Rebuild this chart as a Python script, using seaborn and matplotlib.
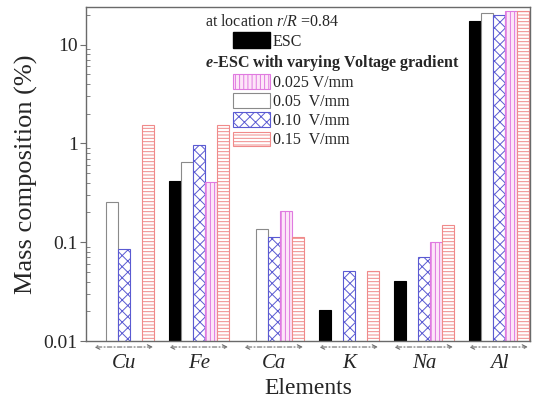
import numpy as np
import pandas as pd
import matplotlib
matplotlib.use("Agg")
import matplotlib.pyplot as plt
import matplotlib.patches as mpatches
import seaborn as sns
from matplotlib.ticker import FixedLocator, FixedFormatter, LogLocator, NullFormatter

nan = np.nan
elements = ["Cu", "Fe", "Ca", "K", "Na", "Al"]
series_order = ["ESC", "0.05 V/mm", "0.10 V/mm", "0.025 V/mm", "0.15 V/mm"]
esc = [nan, 0.42, nan, 0.0205, 0.0405, 17.2]
v005 = [0.254, 0.65, 0.135, nan, nan, 20.9]
v010 = [0.085, 0.96, 0.114, 0.051, 0.0715, 19.8]
v0025 = [nan, 0.41, 0.205, nan, 0.10, 22.1]
v015 = [1.55, 1.55, 0.114, 0.051, 0.15, 21.7]
legend_order = ["0.025 V/mm", "0.05 V/mm", "0.10 V/mm", "0.15 V/mm"]
legend_labels = ["0.025 V/mm", "0.05  V/mm", "0.10  V/mm", "0.15  V/mm"]
yticks = [0.01, 0.1, 1, 10]
ytick_labels = ["0.01", "0.1", "1", "10"]

values = {"ESC": esc, "0.05 V/mm": v005, "0.10 V/mm": v010,
          "0.025 V/mm": v0025, "0.15 V/mm": v015}
rows = []
for s in series_order:
    for e, v in zip(elements, values[s]):
        rows.append({"Element": e, "Series": s, "Value": v})
df = pd.DataFrame(rows)

styles = {
    "ESC": dict(facecolor="black", edgecolor="black", hatch=None),
    "0.05 V/mm": dict(facecolor="white", edgecolor="#8a8a8a", hatch=None),
    "0.10 V/mm": dict(facecolor="white", edgecolor="#5a5ad2", hatch="xxx"),
    "0.025 V/mm": dict(facecolor="#fde6f8", edgecolor="#e07ae0", hatch="||||"),
    "0.15 V/mm": dict(facecolor="white", edgecolor="#f08a8a", hatch="-----"),
}

sns.set_style("ticks")
plt.rcParams["font.family"] = ["Liberation Serif", "DejaVu Serif"]
plt.rcParams["mathtext.fontset"] = "custom"
plt.rcParams["mathtext.rm"] = "Liberation Serif"
plt.rcParams["mathtext.it"] = "Liberation Serif:italic"
plt.rcParams["mathtext.bf"] = "Liberation Serif:bold"
plt.rcParams["mathtext.bfit"] = "Liberation Serif:italic:bold"
plt.rcParams["hatch.linewidth"] = 0.7

fig = plt.figure(figsize=(5.38, 4.0), dpi=100)
ax = fig.add_axes([0.160, 0.1475, 0.825, 0.835])

palette = {s: styles[s]["facecolor"] for s in series_order}
sns.barplot(data=df, x="Element", y="Value", hue="Series", order=elements,
            hue_order=series_order, palette=palette, width=0.8, errorbar=None,
            legend=False, ax=ax)

for s, cont in zip(series_order, ax.containers):
    st = styles[s]
    for bar in cont:
        bar.set_facecolor(st["facecolor"])
        bar.set_edgecolor(st["edgecolor"])
        bar.set_linewidth(0.8)
        if st["hatch"]:
            bar.set_hatch(st["hatch"])

ax.set_yscale("log")
ax.set_ylim(0.01, 24)
ax.set_xlim(-0.51, len(elements) - 1 + 0.41)
ax.yaxis.set_major_locator(FixedLocator(yticks))
ax.yaxis.set_major_formatter(FixedFormatter(ytick_labels))
ax.yaxis.set_minor_locator(LogLocator(base=10, subs=np.arange(2, 10)))
ax.yaxis.set_minor_formatter(NullFormatter())
ax.tick_params(axis="y", which="major", direction="out", length=4, width=0.8,
               color="#707070", labelsize=14, pad=2)
ax.tick_params(axis="y", which="minor", direction="in", length=3, width=0.6,
               color="#707070")
ax.tick_params(axis="x", length=0, labelsize=15, pad=9)
for lab in ax.get_xticklabels():
    lab.set_fontstyle("italic")
for sp in ax.spines.values():
    sp.set_color("#6a6a6a")
    sp.set_linewidth(1.0)

ax.set_xlabel("Elements", fontsize=17, labelpad=4)
ax.set_ylabel("Mass composition (%)", fontsize=19, labelpad=4)

# dash-dot double arrows under each element group
for i in range(len(elements)):
    ax.annotate("", xy=(i - 0.44, -0.018), xytext=(i + 0.42, -0.018),
                xycoords=ax.get_xaxis_transform(),
                textcoords=ax.get_xaxis_transform(),
                arrowprops=dict(arrowstyle="<->", linestyle=(0, (4, 2, 1, 2)),
                                color="#6a6a6a", lw=0.8, mutation_scale=8),
                annotation_clip=False)

# legend block
ax.text(0.268, 0.955, "at location $r/R$ =0.84", transform=ax.transAxes,
        fontsize=11.5, va="center", ha="left")
ax.text(0.268, 0.832, r"$\mathbfit{e}$-ESC with varying Voltage gradient",
        transform=ax.transAxes, fontsize=11.5, fontweight="bold",
        va="center", ha="left")

h_esc = [mpatches.Patch(**{k: v for k, v in styles["ESC"].items() if v is not None})]
leg1 = ax.legend(h_esc, ["ESC"], loc="upper left", bbox_to_anchor=(0.331, 0.925),
                 frameon=False, fontsize=11.5, handlelength=2.3, handleheight=1.2,
                 handletextpad=0.2, borderpad=0, borderaxespad=0)
ax.add_artist(leg1)
handles = []
for s in legend_order:
    st = styles[s]
    handles.append(mpatches.Patch(facecolor=st["facecolor"], edgecolor=st["edgecolor"],
                                  hatch=st["hatch"], linewidth=0.8))
ax.legend(handles, legend_labels, loc="upper left", bbox_to_anchor=(0.331, 0.8),
          frameon=False, fontsize=11.5, handlelength=2.3, handleheight=1.05,
          handletextpad=0.2, labelspacing=0.15, borderpad=0, borderaxespad=0)

fig.savefig("out.png", dpi=100)
